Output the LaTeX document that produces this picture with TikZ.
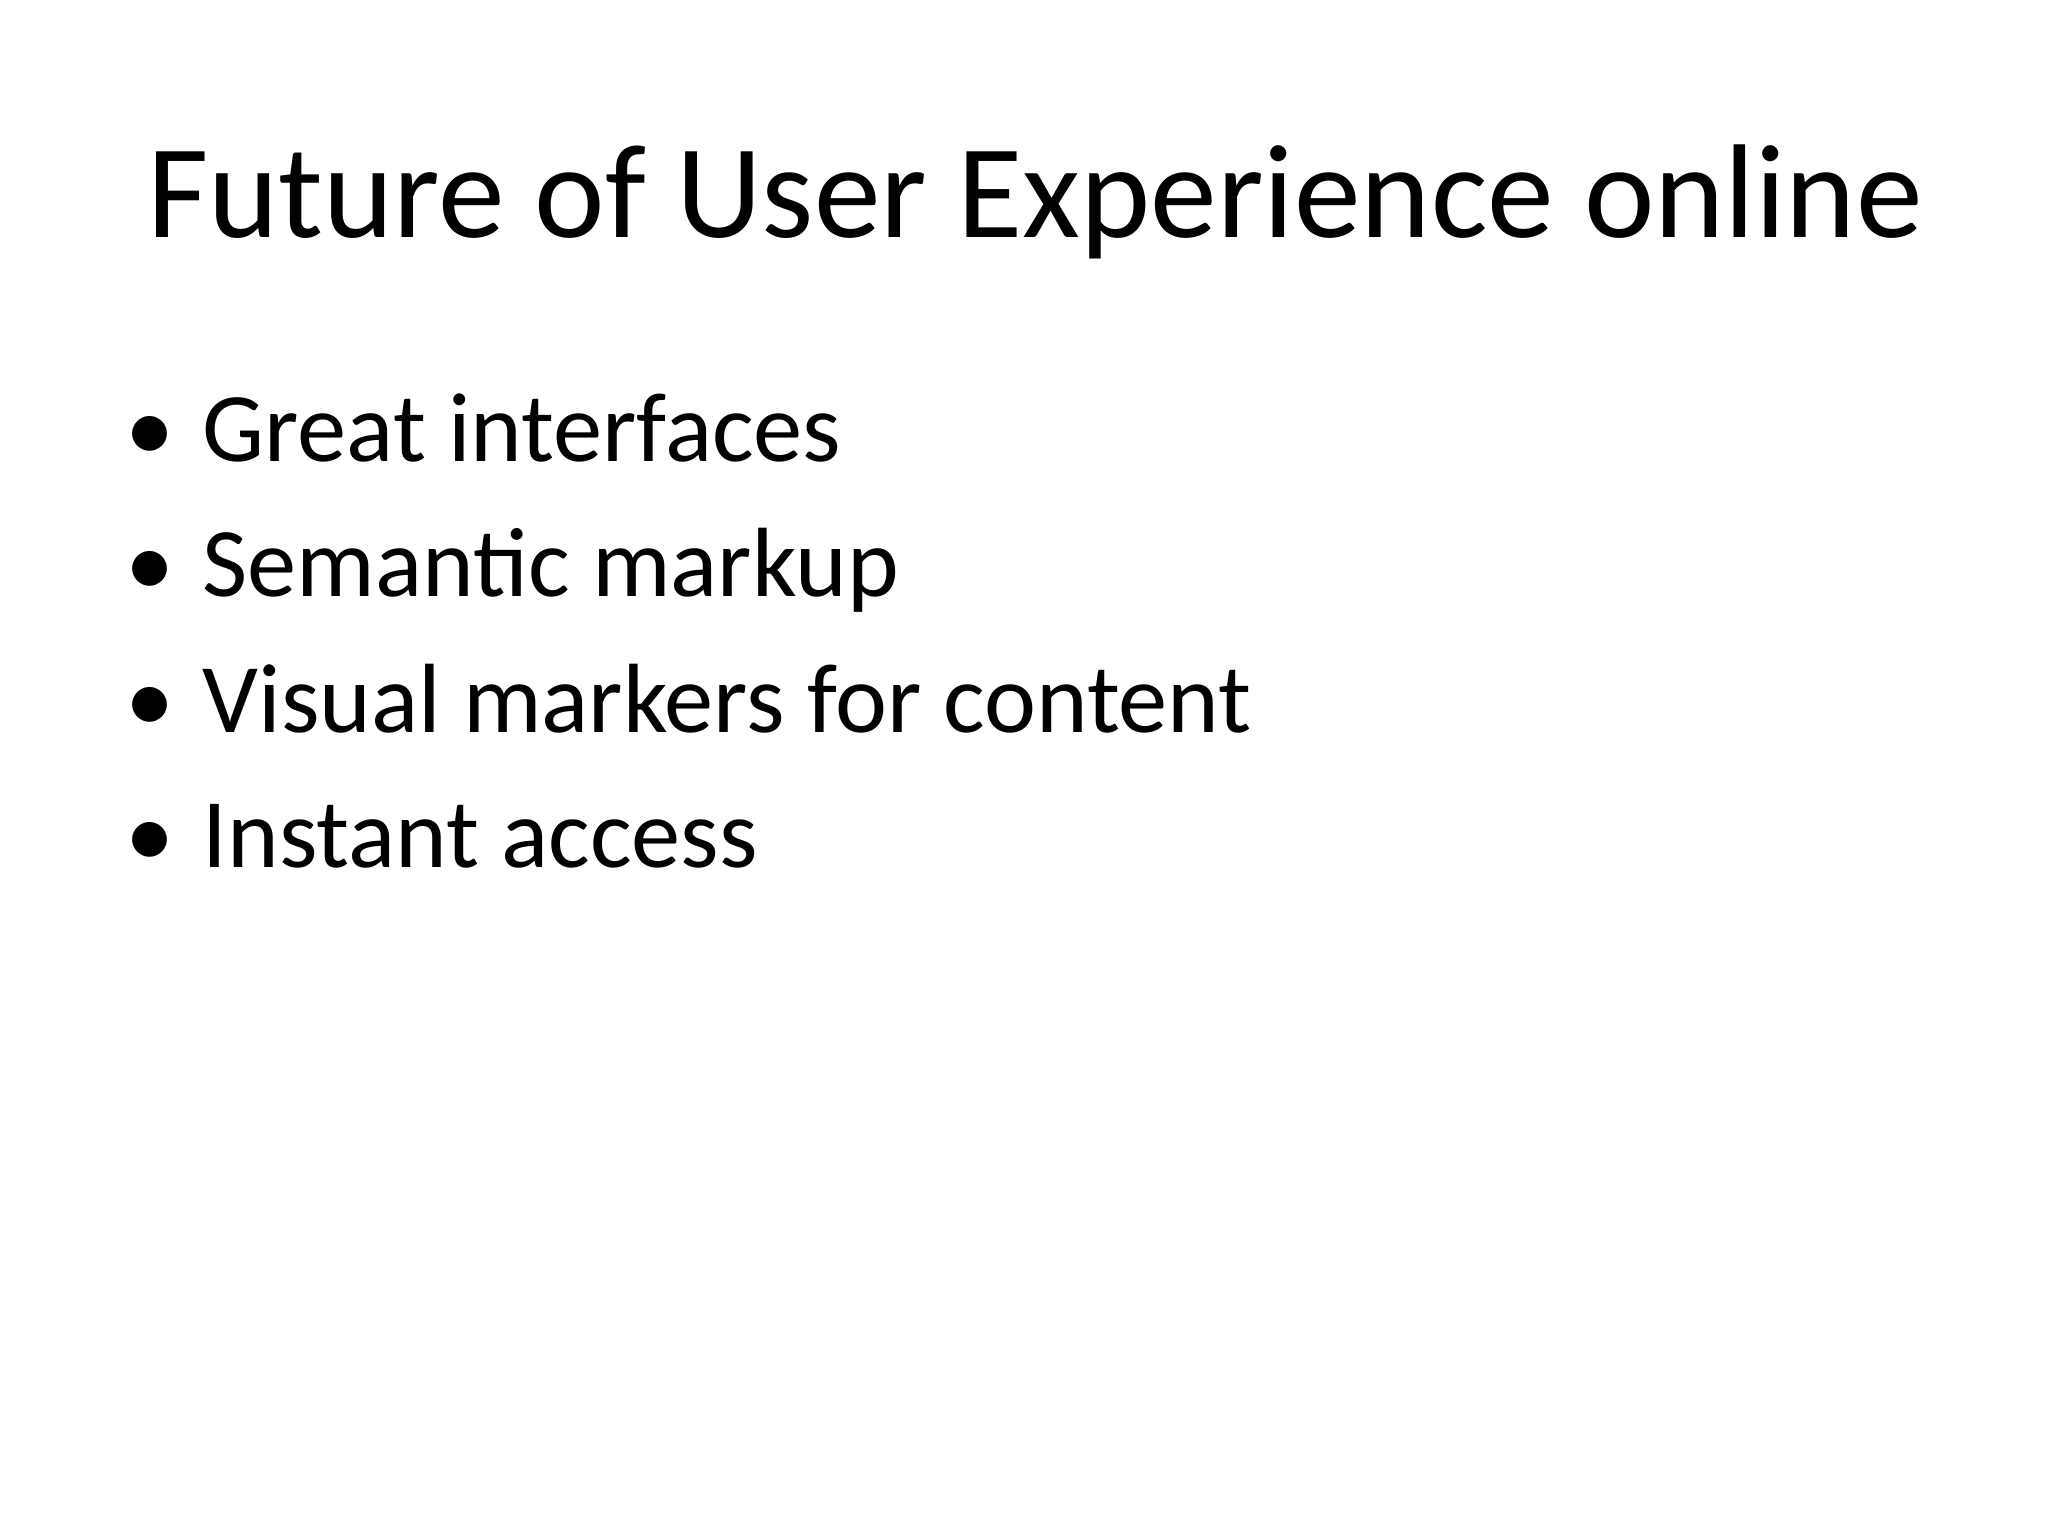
\documentclass[tikz,border=0pt]{standalone}
\usepackage{fontspec}
\setmainfont{Carlito}
\begin{document}
\begin{tikzpicture}
\useasboundingbox (0,0) rectangle (20.48,-15.36);
\tikzset{item/.style={anchor=base west,inner sep=0pt,font=\fontsize{28pt}{32pt}\selectfont},
bul/.style={anchor=base west,inner sep=0pt,font=\fontsize{28pt}{32pt}\selectfont}}
\node[anchor=base,inner sep=0pt,font=\fontsize{38pt}{44pt}\selectfont] (title) at (10.35,-2.38) {Future of User Experience online};
\foreach \t/\y [count=\i] in {Great interfaces/4.62,Semantic markup/5.97,Visual markers for content/7.33,Instant access/8.67}{
  \node[bul] (b\i) at (1.25,-\y) {•};
  \node[item] (i\i) at (2.02,-\y) {\t};
}
\end{tikzpicture}
\end{document}
